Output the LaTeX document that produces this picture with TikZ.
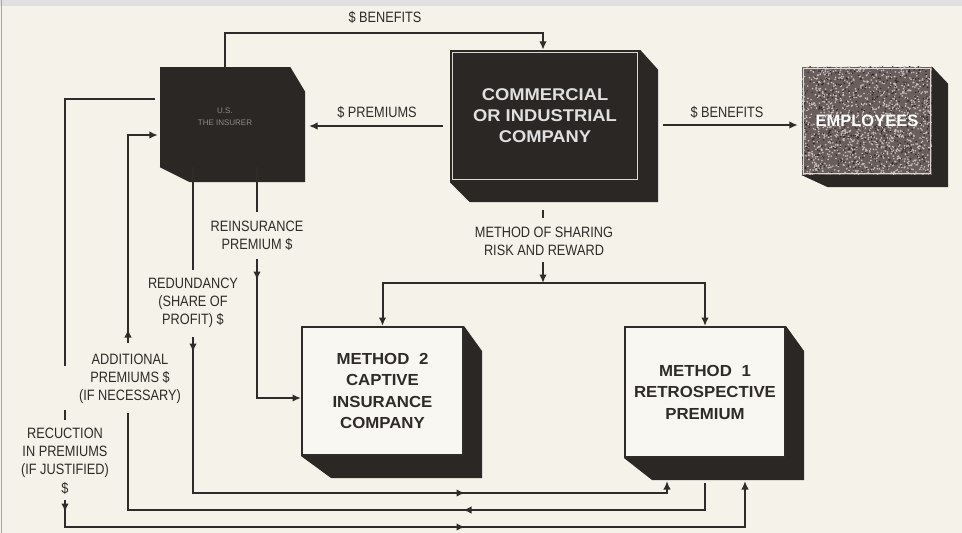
\documentclass[tikz,border=0pt]{standalone}
\usepackage{fontspec}
\setmainfont{Liberation Sans}
\newfontfamily\lblfont[FakeStretch=0.85]{Liberation Sans}
\newfontfamily\widefont[FakeStretch=1.08]{Liberation Sans}
\newfontfamily\mfont[FakeStretch=1.05]{Liberation Sans}
\usetikzlibrary{arrows.meta,decorations.markings,calc}
\definecolor{bgc}{HTML}{F4F2E9}
\definecolor{linec}{HTML}{2E2B29}
\definecolor{darkc}{HTML}{2B2725}
\definecolor{facec}{HTML}{F8F7F1}
\definecolor{empc}{HTML}{6A5E5C}
\definecolor{speck}{HTML}{C9C0BB}
\tikzset{
  conn/.style={draw=linec, line width=2pt},
  tip/.style={-{Latex[length=8.5pt,width=7.5pt]}},
  lbl/.style={font=\lblfont\fontsize{15}{18.3}\selectfont, text=linec, align=center, inner sep=0pt},
  mface/.style={draw=linec, line width=2pt, fill=facec, font=\mfont\bfseries\fontsize{16}{21.5}\selectfont, align=center, text=linec, inner sep=0pt},
  dface/.style={fill=darkc, inner sep=0pt, align=center},
  shade3d/.style={fill=darkc},
  mk/.style 2 args={postaction={decorate}, decoration={markings,
     mark=at position #1 with {\arrow{Latex[length=8.5pt,width=7.5pt]}},
     mark=at position #2 with {\arrow{Latex[length=8.5pt,width=7.5pt]}}}},
  mk1/.style={postaction={decorate}, decoration={markings,
     mark=at position #1 with {\arrow{Latex[length=8.5pt,width=7.5pt]}}}}
}
\begin{document}
\begin{tikzpicture}[x=1pt,y=-1pt]
\fill[bgc] (0,0) rectangle (962,533);
\useasboundingbox (0,0) rectangle (962,533);
\fill[black!12] (0,0) rectangle (962,6);
\draw[black!35, line width=1pt] (1.5,0) -- (1.5,533);

% ---------- boxes ----------
\node[dface, minimum width=130, minimum height=100, text=black!45,
      font=\fontsize{8}{12}\selectfont] (ins) at (225,117) {U.S.\\THE INSURER};
\fill[shade3d] (ins.north east) -- ++(15,25) -- ($(ins.south east)+(15,15)$)
   -- ($(ins.south west)+(30,15)$) -- (ins.south west) -- (ins.south east) -- cycle;

\node[dface, minimum width=190, minimum height=132, text=white!88!black,
      font=\widefont\bfseries\fontsize{17}{21}\selectfont] (com) at (545,116)
      {COMMERCIAL\\OR INDUSTRIAL\\COMPANY};
\fill[shade3d] (com.north east) -- ++(18,20) -- ($(com.south east)+(18,20)$)
   -- ($(com.south west)+(20,20)$) -- (com.south west) -- (com.south east) -- cycle;
\draw[white!85!black, line width=0.9pt] ([shift={(3,3)}]com.north west) rectangle ([shift={(-3,-3)}]com.south east);

\node[fill=empc, minimum width=130, minimum height=108, inner sep=0pt] (emp) at (867,121) {};
\begin{scope}
\clip (emp.north west) rectangle (emp.south east);
\pgfmathsetseed{7}
\foreach \i in {1,...,1300}{
  \pgfmathsetmacro\rx{867+66*rand}
  \pgfmathsetmacro\ry{121+55*rand}
  \fill[speck] (\rx,\ry) circle (0.9);
}
\pgfmathsetseed{11}
\foreach \i in {1,...,600}{
  \pgfmathsetmacro\rx{867+66*rand}
  \pgfmathsetmacro\ry{121+55*rand}
  \fill[darkc] (\rx,\ry) circle (0.8);
}
\end{scope}
\draw[white!85!black, line width=0.9pt] ([shift={(2,2)}]emp.north west) rectangle ([shift={(-2,-2)}]emp.south east);
\node[text=white, font=\bfseries\fontsize{16.5}{20}\selectfont, inner sep=0pt] at (emp.center) {EMPLOYEES};
\fill[shade3d] (emp.north east) -- ++(16,17) -- ($(emp.south east)+(16,12)$)
   -- ($(emp.south west)+(26,12)$) -- (emp.south west) -- (emp.south east) -- cycle;

\node[mface, minimum width=161, minimum height=128] (m2) at (382.5,391)
      {METHOD\hspace{0.6em}2\\CAPTIVE\\INSURANCE\\COMPANY};
\fill[shade3d] (m2.north east) -- ++(18,25) -- ($(m2.south east)+(18,22)$)
   -- ($(m2.south west)+(30,22)$) -- (m2.south west) -- (m2.south east) -- cycle;

\node[mface, minimum width=160, minimum height=130] (m1) at (705,392)
      {METHOD\hspace{0.6em}1\\RETROSPECTIVE\\PREMIUM};
\fill[shade3d] (m1.north east) -- ++(18,25) -- ($(m1.south east)+(18,22)$)
   -- ($(m1.south west)+(28,22)$) -- (m1.south west) -- (m1.south east) -- cycle;

% ---------- labels ----------
\node[lbl] (lA) at (385,17) {\$ BENEFITS};
\node[lbl] (lB) at (377,112) {\$ PREMIUMS};
\node[lbl] (lC) at (727,112) {\$ BENEFITS};
\node[lbl] (lD) at (257,236) {REINSURANCE\\PREMIUM \$};
\node[lbl] (lE) at (193,303) {REDUNDANCY\\(SHARE OF\\PROFIT) \$};
\node[lbl] (lF) at (130,379) {ADDITIONAL\\PREMIUMS \$\\(IF NECESSARY)};
\node[lbl] (lG) at (65,461) {RECUCTION\\IN PREMIUMS\\(IF JUSTIFIED)\\\$};
\node[lbl] (lH) at (544,241) {METHOD OF SHARING\\RISK AND REWARD};

% ---------- coordinates ----------
\coordinate (bA) at (543,33);
\coordinate (insR) at (309,126);
\coordinate (pC) at (663,125);
\coordinate (d1) at (257,212);
\coordinate (d2) at (257,259);
\coordinate (d3) at (257,398);
\coordinate (e1) at (193,270);
\coordinate (e2) at (193,337);
\coordinate (e3) at (193,493);
\coordinate (e4) at (667,493);
\coordinate (f1) at (705,483);
\coordinate (f2) at (705,510);
\coordinate (f3) at (128,510);
\coordinate (f4) at (128,413);
\coordinate (f5) at (128,343);
\coordinate (f6) at (128,135);
\coordinate (g1) at (65,99);
\coordinate (g2) at (65,366);
\coordinate (g3) at (65,410);
\coordinate (g4) at (65,420);
\coordinate (g5) at (65,500);
\coordinate (g6) at (65,527);
\coordinate (g7) at (745,527);
\coordinate (h0) at (543,210);
\coordinate (h1) at (543,218);
\coordinate (h2) at (543,262);
\coordinate (h3) at (543,283);

% ---------- connectors ----------
\draw[conn,tip] (ins.north) |- (bA) -- (com.north -| bA);
\draw[conn,tip,shorten <=7pt] (com.west |- insR) -- (insR);
\draw[conn,tip,shorten >=4pt] (pC) -- (emp.west |- pC);

\draw[conn] (ins.south -| d1) -- (d1);
\draw[conn,tip,mk1=21pt] (d2) -- (d3) -- (m2.west |- d3);

\draw[conn] (ins.south -| e1) -- (e1);
\draw[conn,tip,shorten >=23pt,mk={15pt}{428pt}] (e2) -- (e3) -- (e4) -- (m1.south -| e4);

\draw[conn,mk1=269pt] (f1) -- (f2) -- (f3) -- (f4);
\draw[conn,tip,shorten >=2pt,mk1=14pt] (f5) -- (f6) -- (ins.west |- f6);

\draw[conn,shorten <=5pt] (ins.west |- g1) -- (g1) -- (g2);
\draw[conn] (g3) -- (g4);
\draw[conn,tip,shorten >=23pt,mk={12pt}{427pt}] (g5) -- (g6) -- (g7) -- (m1.south -| g7);

\draw[conn] (h0) -- (h1);
\draw[conn,tip] (h2) -- (h3);
\draw[conn,tip] (h3) -| (m2.north);
\draw[conn,tip] (h3) -| (m1.north);
\end{tikzpicture}
\end{document}
